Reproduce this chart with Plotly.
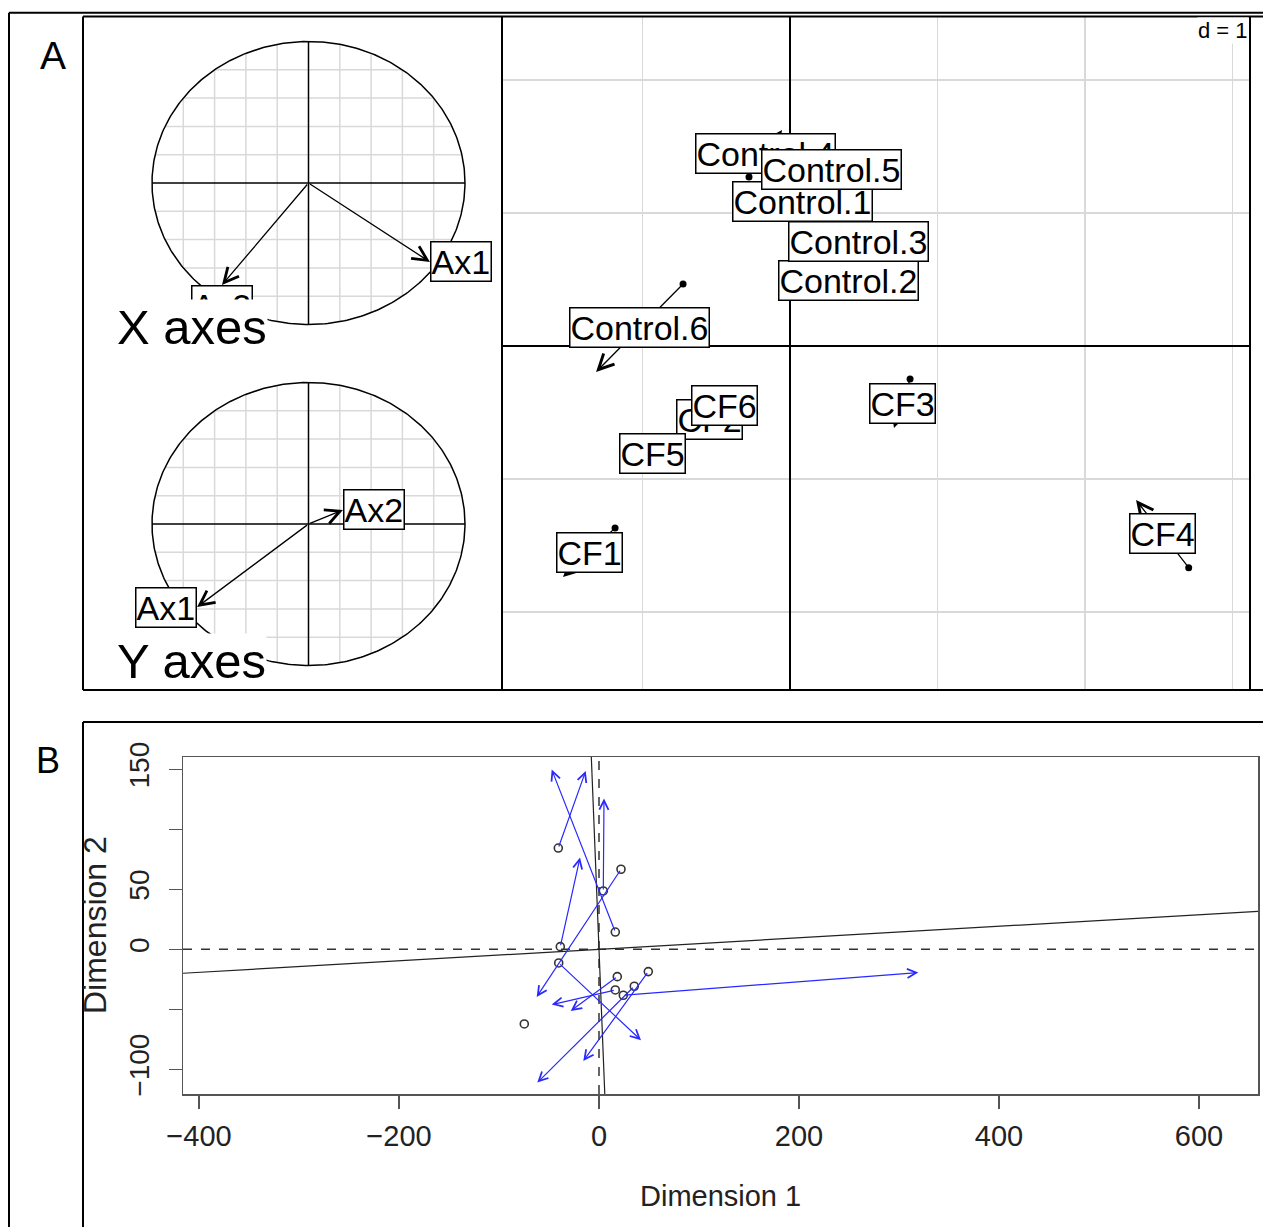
import numpy as np
import plotly.graph_objects as go

W, H = 1263, 1227

# ---------------- DATA ----------------
# Panel A : co-inertia map (start = X table dot, end = Y table arrow head)
samples = ["Control.1", "Control.2", "Control.3", "Control.4", "Control.5", "Control.6",
           "CF1", "CF2", "CF3", "CF4", "CF5", "CF6"]
x_start = [0.05, 0.36, 0.43, -0.278, 0.24, -0.725, -1.186, -0.52, 0.814, 2.703, -0.90, -0.41]
y_start = [1.06, 0.47, 0.80, 1.271, 1.30, 0.466, -1.368, -0.53, -0.248, -1.667, -0.79, -0.42]
x_end = [0.12, 0.43, 0.50, -0.054, 0.32, -1.315, -1.539, -0.57, 0.705, 2.346, -0.96, -0.48]
y_end = [1.11, 0.51, 0.77, 1.624, 1.36, -0.195, -1.737, -0.58, -0.617, -1.158, -0.83, -0.48]

# Correlation circles
axis_names = ["Ax1", "Ax2"]
xaxes_c1 = [0.776, -0.553]
xaxes_c2 = [-0.558, -0.721]
yaxes_c1 = [-0.712, 0.220]
yaxes_c2 = [-0.587, 0.099]
corcircle_grid = [-0.8, -0.6, -0.4, -0.2, 0.2, 0.4, 0.6, 0.8]
grid_d = 1

# Panel B : Procrustes
pts_x = [-40.7, 22.0, 4.3, 16.3, -38.7, -40.3, 18.3, 49.3, 16.3, 35.3, 24.3, -74.7]
pts_y = [84.4, 66.7, 48.6, 14.4, 2.2, -11.4, -22.8, -18.6, -33.9, -30.8, -38.3, -62.2]
tgt_x = [-13.3, -62.3, 5.0, -47.3, -19.0, 42.0, -28.3, -15.7, -47.3, -61.7, 319.3, -74.7]
tgt_y = [148.6, -39.7, 125.6, 149.8, 76.4, -75.8, -51.4, -93.1, -46.1, -111.1, -19.4, -63.5]
rotation_slope = 0.048
b_xticks = [-400, -200, 0, 200, 400, 600]
b_xticklabels = ["\u2212400", "\u2212200", "0", "200", "400", "600"]
b_yticks = [-100, -50, 0, 50, 100, 150]
b_yticklabels = ["\u2212100", "", "0", "50", "", "150"]

# ---------------- helpers ----------------
SANS = "Liberation Sans, Arial, sans-serif"


def px(x):
    return x / W


def py(y):
    return 1 - y / H


fig = go.Figure()

# ---------- Panel A main ----------
xr_main = [(502 - 790) / 147.5, (1250 - 790) / 147.5]
yr_main = [(346 - 690) / 133.0, (346 - 16.5) / 133.0]

fig.add_trace(go.Scatter(x=x_start, y=y_start, mode="markers",
                         marker=dict(color="black", size=7),
                         xaxis="x", yaxis="y", hoverinfo="skip"))

# ---------- correlation circles ----------
theta = np.linspace(0, 2 * np.pi, 400)
circ_x = np.cos(theta)
circ_y = np.sin(theta)


def corcircle_traces(xa, ya):
    gx, gy = [], []
    for c in corcircle_grid:
        h = float(np.sqrt(1 - c * c))
        gx += [c, c, None, -h, h, None]
        gy += [-h, h, None, c, c, None]
    fig.add_trace(go.Scatter(x=gx, y=gy, mode="lines",
                             line=dict(color="#d9d9d9", width=1.5),
                             xaxis=xa, yaxis=ya, hoverinfo="skip"))
    fig.add_trace(go.Scatter(x=[-1, 1, None, 0, 0], y=[0, 0, None, -1, 1], mode="lines",
                             line=dict(color="black", width=1.5),
                             xaxis=xa, yaxis=ya, hoverinfo="skip"))
    fig.add_trace(go.Scatter(x=circ_x, y=circ_y, mode="lines",
                             line=dict(color="black", width=1.5),
                             xaxis=xa, yaxis=ya, hoverinfo="skip"))


corcircle_traces("x2", "y2")
corcircle_traces("x3", "y3")

# ---------- Panel B ----------
xr_b = [-416, 659]
yr_b = [(949.3 - 1094) / 1.2, (949.3 - 757) / 1.2]

fig.add_trace(go.Scatter(x=xr_b, y=[0, 0], mode="lines",
                         line=dict(color="#333", width=1.5, dash="dash"),
                         xaxis="x4", yaxis="y4", hoverinfo="skip"))
fig.add_trace(go.Scatter(x=[0, 0], y=yr_b, mode="lines",
                         line=dict(color="#333", width=1.5, dash="dash"),
                         xaxis="x4", yaxis="y4", hoverinfo="skip"))
fig.add_trace(go.Scatter(x=xr_b, y=[rotation_slope * v for v in xr_b], mode="lines",
                         line=dict(color="#222", width=1.2),
                         xaxis="x4", yaxis="y4", hoverinfo="skip"))
fig.add_trace(go.Scatter(x=[-rotation_slope * v for v in yr_b], y=yr_b, mode="lines",
                         line=dict(color="#222", width=1.2),
                         xaxis="x4", yaxis="y4", hoverinfo="skip"))
fig.add_trace(go.Scatter(x=pts_x, y=pts_y, mode="markers",
                         marker=dict(symbol="circle-open", color="#333", size=8,
                                     line=dict(width=1.6)),
                         xaxis="x4", yaxis="y4", hoverinfo="skip"))

annotations = []

# Panel B arrows
for x0, y0, x1, y1 in zip(pts_x, pts_y, tgt_x, tgt_y):
    annotations.append(dict(x=x1, y=y1, ax=x0, ay=y0, xref="x4", yref="y4",
                            axref="x4", ayref="y4", showarrow=True, text="",
                            arrowhead=5, arrowsize=1.5, arrowwidth=1.2,
                            arrowcolor="rgb(40,40,255)", standoff=0, startstandoff=0))

# Panel A arrows
for x0, y0, x1, y1 in zip(x_start, y_start, x_end, y_end):
    annotations.append(dict(x=x1, y=y1, ax=x0, ay=y0, xref="x", yref="y",
                            axref="x", ayref="y", showarrow=True, text="",
                            arrowhead=5, arrowsize=2.3, arrowwidth=1.3,
                            arrowcolor="black", standoff=0, startstandoff=0))
# Panel A labels at the middle of each arrow
for name, x0, y0, x1, y1 in zip(samples, x_start, y_start, x_end, y_end):
    annotations.append(dict(x=(x0 + x1) / 2, y=(y0 + y1) / 2, xref="x", yref="y",
                            text=name, showarrow=False,
                            font=dict(family=SANS, size=34, color="black"),
                            bgcolor="white", bordercolor="black", borderwidth=1.5,
                            borderpad=0, xanchor="center", yanchor="middle"))


def circle_arrows(xa, ya, c1, c2):
    for name, u, v in zip(axis_names, c1, c2):
        annotations.append(dict(x=u, y=v, ax=0, ay=0, xref=xa, yref=ya,
                                axref=xa, ayref=ya, showarrow=True, text="",
                                arrowhead=5, arrowsize=2.2, arrowwidth=1.3,
                                arrowcolor="black", standoff=0, startstandoff=0))
    for name, u, v in zip(axis_names, c1, c2):
        if abs(v) > abs(u):
            xan, yan = "center", ("top" if v < 0 else "bottom")
        else:
            xan, yan = ("left" if u > 0 else "right"), "middle"
        annotations.append(dict(x=u, y=v, xref=xa, yref=ya, text=name, showarrow=False,
                                font=dict(family=SANS, size=34, color="black"),
                                bgcolor="white", bordercolor="black", borderwidth=1.5,
                                borderpad=0, xanchor=xan, yanchor=yan))


circle_arrows("x2", "y2", xaxes_c1, xaxes_c2)
circle_arrows("x3", "y3", yaxes_c1, yaxes_c2)

# circle titles
annotations.append(dict(x=px(116), y=py(355), xref="paper", yref="paper", text="X axes",
                        showarrow=False, font=dict(family=SANS, size=49, color="black"),
                        bgcolor="white", borderpad=0, xanchor="left", yanchor="bottom"))
annotations.append(dict(x=px(116), y=py(689), xref="paper", yref="paper", text="Y axes",
                        showarrow=False, font=dict(family=SANS, size=49, color="black"),
                        bgcolor="white", borderpad=0, xanchor="left", yanchor="bottom"))

# d = 1
annotations.append(dict(x=px(1249), y=py(17.5), xref="paper", yref="paper",
                        text="d = %d" % grid_d, showarrow=False,
                        font=dict(family=SANS, size=22, color="black"),
                        bgcolor="white", borderpad=0, xanchor="right", yanchor="top"))

# Panel letters
annotations.append(dict(x=px(53), y=py(55), xref="paper", yref="paper", text="A",
                        showarrow=False, font=dict(family=SANS, size=39, color="black"),
                        xanchor="center", yanchor="middle"))
annotations.append(dict(x=px(48), y=py(760), xref="paper", yref="paper", text="B",
                        showarrow=False, font=dict(family=SANS, size=36, color="black"),
                        xanchor="center", yanchor="middle"))

# Panel B axis titles
annotations.append(dict(x=px(720.5), y=py(1196), xref="paper", yref="paper",
                        text="Dimension 1", showarrow=False,
                        font=dict(family=SANS, size=29, color="#222"),
                        xanchor="center", yanchor="middle"))
annotations.append(dict(x=px(95), y=py(925), xref="paper", yref="paper",
                        text="Dimension 2", showarrow=False, textangle=-90,
                        font=dict(family=SANS, size=32, color="#222"),
                        xanchor="center", yanchor="middle"))

# Frames
frame_lines = [
    (9, 12.7, 9, 1227), (9, 12.7, 1263, 12.7),
    (83, 16.5, 1263, 16.5), (83, 16.5, 83, 690), (83, 690, 1263, 690),
    (502, 16.5, 502, 690), (1250, 16.5, 1250, 690),
    (83, 722, 1263, 722), (83, 722, 83, 1227),
]
shapes = [dict(type="line", xref="paper", yref="paper", x0=px(a), y0=py(b), x1=px(c), y1=py(d),
               line=dict(color="black", width=2), layer="above")
          for a, b, c, d in frame_lines]

hidden = dict(showgrid=False, zeroline=False, showticklabels=False, ticks="",
              showline=False, automargin=False)

fig.update_layout(
    template="none",
    width=W, height=H, margin=dict(l=0, r=0, t=0, b=0, pad=0, autoexpand=False),
    autosize=False,
    paper_bgcolor="white", plot_bgcolor="white", showlegend=False, hovermode=False,
    xaxis=dict(domain=[px(502), px(1250)], range=xr_main, dtick=grid_d, tick0=0,
               showgrid=True, gridcolor="#d9d9d9", gridwidth=1.5,
               zeroline=True, zerolinecolor="black", zerolinewidth=1.5, automargin=False,
               showticklabels=False, ticks="", showline=False, fixedrange=True),
    yaxis=dict(domain=[py(690), py(16.5)], range=yr_main, dtick=grid_d, tick0=0,
               showgrid=True, gridcolor="#d9d9d9", gridwidth=1.5,
               zeroline=True, zerolinecolor="black", zerolinewidth=1.5, automargin=False,
               showticklabels=False, ticks="", showline=False, fixedrange=True),
    xaxis2=dict(domain=[px(83), px(502)],
                range=[(83 - 308.5) / 156.5, (502 - 308.5) / 156.5], anchor="y2", **hidden),
    yaxis2=dict(domain=[py(353), py(16.5)],
                range=[(183 - 353) / 141.5, (183 - 16.5) / 141.5], anchor="x2", **hidden),
    xaxis3=dict(domain=[px(83), px(502)],
                range=[(83 - 308.5) / 156.5, (502 - 308.5) / 156.5], anchor="y3", **hidden),
    yaxis3=dict(domain=[py(690), py(353)],
                range=[(524 - 690) / 141.5, (524 - 353) / 141.5], anchor="x3", **hidden),
    xaxis4=dict(domain=[px(183), px(1258)], range=xr_b, anchor="y4", automargin=False,
                tickvals=b_xticks, ticktext=b_xticklabels,
                showgrid=False, zeroline=False, showline=True, mirror=True,
                linecolor="#555", linewidth=1.5, ticks="outside", ticklen=13,
                tickwidth=1.5, tickcolor="#555", ticklabelstandoff=3,
                tickfont=dict(family=SANS, size=29, color="#222")),
    yaxis4=dict(domain=[py(1094), py(757)], range=yr_b, anchor="x4", automargin=False,
                tickvals=b_yticks, ticktext=b_yticklabels, tickangle=-90,
                showgrid=False, zeroline=False, showline=True, mirror=True,
                linecolor="#555", linewidth=1.5, ticks="outside", ticklen=13,
                tickwidth=1.5, tickcolor="#555", ticklabelstandoff=8,
                tickfont=dict(family=SANS, size=28, color="#222")),
    annotations=annotations,
    shapes=shapes,
)

fig.write_html("out.html", config={"displayModeBar": False, "staticPlot": True},
               post_script="document.body.style.margin='0';document.body.style.padding='0';")
